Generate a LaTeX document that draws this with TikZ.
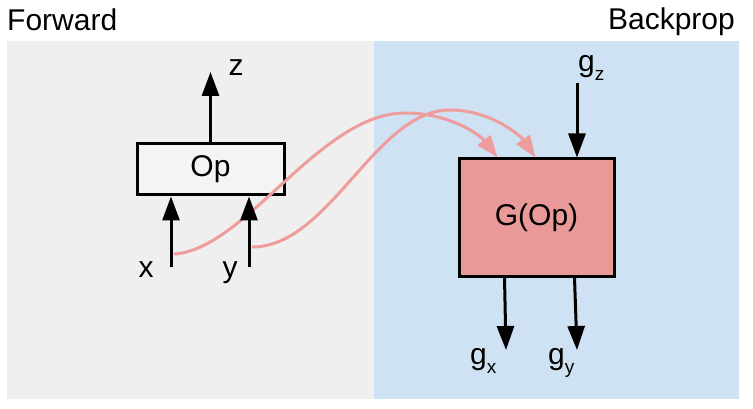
\documentclass[tikz,border=0pt]{standalone}
\usepackage{fontspec}
\setmainfont{Liberation Sans}
\usetikzlibrary{arrows.meta}
\definecolor{fwdbg}{HTML}{EFEFEF}
\definecolor{bwdbg}{HTML}{CFE2F3}
\definecolor{gfill}{HTML}{EA9999}
\definecolor{opfill}{HTML}{F4F4F4}
\definecolor{pinkline}{HTML}{EE9C9C}
\newcommand\gsub[1]{g\raisebox{-9pt}{\fontsize{19}{19}\selectfont #1}}
\begin{document}
\begin{tikzpicture}[x=1pt,y=-1pt,
  lbl/.style={font=\fontsize{30}{30}\selectfont, inner sep=0pt, text=black},
  box/.style={draw=black, line width=3pt, inner sep=0pt},
  blk/.style={line width=3pt, -{Triangle[length=24pt,width=17pt]}},
  pnk/.style={draw=pinkline, line width=3pt, -{Triangle[length=22pt,width=16pt]}}]
\useasboundingbox (0,0) rectangle (753,409);
\fill[white] (0,0) rectangle (753,409);
\fill[fwdbg] (7,41) rectangle (374,399);
\fill[bwdbg] (374,41) rectangle (739,399);
\node[lbl, anchor=base west] (fw) at (7,31) {Forward};
\node[lbl, anchor=base east] (bp) at (735,30) {Backprop};
% boxes
\node[box, lbl, fill=opfill, minimum width=147pt, minimum height=51pt] (op) at (210.5,169.5) {Op};
\node[box, lbl, fill=gfill, minimum width=155pt, minimum height=117pt] (G) at (536.5,217.5) {G(Op)};
% labels
\node[lbl, anchor=base] (zl) at (236,76) {z};
\node[lbl, anchor=base] (xl) at (146,277) {x};
\node[lbl, anchor=base] (yl) at (230,277) {y};
\node[lbl, anchor=base west] (gzl) at (578,72) {\gsub{z}};
\node[lbl, anchor=base west] (gxl) at (470,364) {\gsub{x}};
\node[lbl, anchor=base west] (gyl) at (548,364) {\gsub{y}};
% coordinates
\coordinate (xs) at (171,267);
\coordinate (ys) at (249,267);
\coordinate (zt) at (210.5,72);
\coordinate (gzs) at (577,83);
\coordinate (gxe) at (506,350);
\coordinate (gye) at (577,350);
\coordinate (px) at (174,254);
\coordinate (py) at (252,247);
% pink curves
\draw[pnk] (px) .. controls (245,250) and (320,113) .. (405,113)
  .. controls (450,113) and (480,135) .. ([xshift=-39pt]G.north);
\draw[pnk] (py) .. controls (330,247) and (375,110) .. (450,110)
  .. controls (490,110) and (520,135) .. ([xshift=-1pt]G.north);
% black arrows
\draw[blk] (xs) -- (xs |- op.south);
\draw[blk] (ys) -- (ys |- op.south);
\draw[blk] (op.north) -- (zt);
\draw[blk] (gzs) -- (gzs |- G.north);
\draw[blk] ([xshift=-32pt]G.south) -- (gxe);
\draw[blk] ([xshift=38pt]G.south) -- (gye);
\end{tikzpicture}
\end{document}
